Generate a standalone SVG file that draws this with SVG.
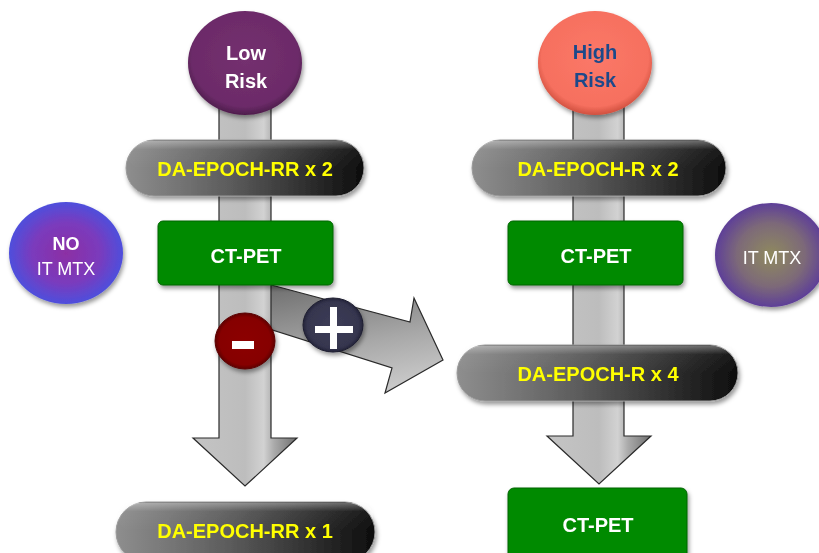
<svg xmlns="http://www.w3.org/2000/svg" width="819" height="553" viewBox="0 0 819 553">
<defs>
  <style>
    .pilltxt{font-family:"Liberation Sans",Arial,sans-serif;font-weight:bold;font-size:20px;fill:#ffff00;text-anchor:middle}
    .boxtxt{font-family:"Liberation Sans",Arial,sans-serif;font-weight:bold;font-size:20px;fill:#ffffff;text-anchor:middle}
    .ctxt{font-family:"Liberation Sans",Arial,sans-serif;font-size:18px;fill:#ffffff;text-anchor:middle}
    .arrow{stroke:#2a2a2a;stroke-width:1.2;stroke-linejoin:miter}
    .pill{fill:url(#pillG);stroke:#9a9a9a;stroke-width:1}
    .box{fill:#008a00;stroke:#006400;stroke-width:1}
  </style>
  <filter id="sh" x="-20%" y="-20%" width="140%" height="150%">
    <feDropShadow dx="1.5" dy="3" stdDeviation="2" flood-color="#000" flood-opacity="0.4"/>
  </filter>
  <linearGradient id="pillG" x1="0" y1="0" x2="1" y2="0">
    <stop offset="0" stop-color="#8e8e8e"/>
    <stop offset="0.45" stop-color="#5a5a5a"/>
    <stop offset="1" stop-color="#0d0d0d"/>
  </linearGradient>
  <linearGradient id="gloss" x1="0" y1="0" x2="0" y2="1">
    <stop offset="0" stop-color="#fff" stop-opacity="0.35"/>
    <stop offset="0.3" stop-color="#fff" stop-opacity="0.05"/>
    <stop offset="1" stop-color="#fff" stop-opacity="0"/>
  </linearGradient>
  <linearGradient id="vArrow" gradientUnits="objectBoundingBox" x1="0" y1="0" x2="1" y2="0">
    <stop offset="0" stop-color="#c4c4c4"/>
    <stop offset="0.5" stop-color="#bdbdbd"/>
    <stop offset="0.68" stop-color="#d2d2d2"/>
    <stop offset="0.78" stop-color="#aaaaaa"/>
    <stop offset="1" stop-color="#6e6e6e"/>
  </linearGradient>
  <linearGradient id="dArrow" x1="0.2" y1="0" x2="0.5" y2="1">
    <stop offset="0" stop-color="#707070"/>
    <stop offset="0.6" stop-color="#a8a8a8"/>
    <stop offset="1" stop-color="#c8c8c8"/>
  </linearGradient>
  <radialGradient id="lowG" cx="0.5" cy="0.45" r="0.55">
    <stop offset="0" stop-color="#74306f"/>
    <stop offset="0.85" stop-color="#6c2b69"/>
    <stop offset="1" stop-color="#4e1d4c"/>
  </radialGradient>
  <radialGradient id="highG" cx="0.5" cy="0.45" r="0.55">
    <stop offset="0" stop-color="#fb7868"/>
    <stop offset="0.85" stop-color="#f6705f"/>
    <stop offset="1" stop-color="#d0503f"/>
  </radialGradient>
  <radialGradient id="noG" cx="0.5" cy="0.5" r="0.5">
    <stop offset="0" stop-color="#8c2fa4"/>
    <stop offset="0.6" stop-color="#7a3bbd"/>
    <stop offset="1" stop-color="#4e4fdc"/>
  </radialGradient>
  <radialGradient id="itG" cx="0.5" cy="0.5" r="0.5">
    <stop offset="0" stop-color="#8f8a5e"/>
    <stop offset="0.6" stop-color="#7d6a78"/>
    <stop offset="1" stop-color="#5e3f98"/>
  </radialGradient>
  <radialGradient id="minusG" cx="0.5" cy="0.5" r="0.5">
    <stop offset="0" stop-color="#8c0000"/>
    <stop offset="0.85" stop-color="#860000"/>
    <stop offset="1" stop-color="#600000"/>
  </radialGradient>
  <radialGradient id="plusG" cx="0.5" cy="0.5" r="0.5">
    <stop offset="0" stop-color="#3c3c56"/>
    <stop offset="0.85" stop-color="#36364f"/>
    <stop offset="1" stop-color="#24243a"/>
  </radialGradient>
</defs>

<g id="connectors">
  <polygon class="arrow" fill="url(#dArrow)" points="260,282 410,322 414,298 443,360 385,393 392,368 260,326"/>
  <polygon class="arrow" fill="url(#vArrow)" points="219,100 271,100 271,438 297,438 245,486 193,438 219,438"/>
  <polygon class="arrow" fill="url(#vArrow)" points="573,100 624,100 624,436 651,436 599,484 547,436 573,436"/>
</g>

<g id="low-risk" filter="url(#sh)">
  <ellipse cx="245" cy="63" rx="57" ry="52" fill="url(#lowG)"/>
  <text class="boxtxt" x="246" y="60">Low</text>
  <text class="boxtxt" x="246" y="88">Risk</text>
</g>

<g id="high-risk" filter="url(#sh)">
  <ellipse cx="595" cy="63" rx="57" ry="52" fill="url(#highG)"/>
  <text class="boxtxt" x="595" y="59" style="fill:#1f4a8a">High</text>
  <text class="boxtxt" x="595" y="87" style="fill:#1f4a8a">Risk</text>
</g>

<g id="no-it-mtx" filter="url(#sh)">
  <ellipse cx="66" cy="253" rx="57" ry="51" fill="url(#noG)"/>
  <text class="ctxt" x="66" y="250" style="font-weight:bold">NO</text>
  <text class="ctxt" x="66" y="275">IT MTX</text>
</g>

<g id="it-mtx" filter="url(#sh)">
  <ellipse cx="771" cy="255" rx="56" ry="52" fill="url(#itG)"/>
  <text class="ctxt" x="772" y="264">IT MTX</text>
</g>

<g id="da-epoch-rr-x2" filter="url(#sh)">
  <rect class="pill" x="126" y="140" width="238" height="56" rx="28"/>
  <rect x="128" y="141" width="234" height="28" rx="14" fill="url(#gloss)"/>
  <text class="pilltxt" x="245" y="176">DA-EPOCH-RR x 2</text>
</g>

<g id="da-epoch-r-x2" filter="url(#sh)">
  <rect class="pill" x="472" y="140" width="254" height="56" rx="28"/>
  <rect x="474" y="141" width="250" height="28" rx="14" fill="url(#gloss)"/>
  <text class="pilltxt" x="598" y="176">DA-EPOCH-R x 2</text>
</g>

<g id="ct-pet-left" filter="url(#sh)">
  <rect class="box" x="158" y="221" width="175" height="64" rx="5"/>
  <text class="boxtxt" x="246" y="263">CT-PET</text>
</g>

<g id="ct-pet-right" filter="url(#sh)">
  <rect class="box" x="508" y="221" width="175" height="64" rx="5"/>
  <text class="boxtxt" x="596" y="263">CT-PET</text>
</g>

<g id="da-epoch-r-x4" filter="url(#sh)">
  <rect class="pill" x="457" y="345" width="281" height="56" rx="28"/>
  <rect x="459" y="346" width="277" height="28" rx="14" fill="url(#gloss)"/>
  <text class="pilltxt" x="598" y="381">DA-EPOCH-R x 4</text>
</g>

<g id="ct-pet-bottom" filter="url(#sh)">
  <rect class="box" x="508" y="488" width="179" height="80" rx="6"/>
  <text class="boxtxt" x="598" y="532">CT-PET</text>
</g>

<g id="da-epoch-rr-x1" filter="url(#sh)">
  <rect class="pill" x="116" y="502" width="259" height="60" rx="30"/>
  <rect x="118" y="503" width="255" height="28" rx="14" fill="url(#gloss)"/>
  <text class="pilltxt" x="245" y="538">DA-EPOCH-RR x 1</text>
</g>

<g id="minus" filter="url(#sh)">
  <ellipse cx="245" cy="341" rx="30" ry="28" fill="url(#minusG)" stroke="#5a0000" stroke-width="1"/>
  <rect x="232" y="341" width="22" height="8" fill="#ffffff"/>
</g>

<g id="plus" filter="url(#sh)">
  <ellipse cx="333" cy="325" rx="30" ry="27" fill="url(#plusG)" stroke="#1e1e30" stroke-width="1"/>
  <rect x="315" y="326" width="38" height="7" fill="#ffffff"/>
  <rect x="330" y="307" width="7" height="42" fill="#ffffff"/>
</g>
</svg>
